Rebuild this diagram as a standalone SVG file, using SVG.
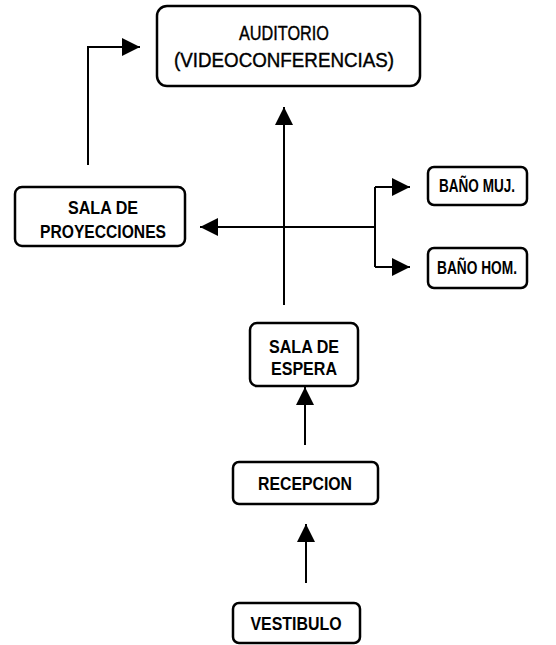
<svg xmlns="http://www.w3.org/2000/svg" width="556" height="645" viewBox="0 0 556 645">
<style>
.box{fill:#fff;stroke:#000;stroke-width:2.5}
.t{font-family:"Liberation Sans",Arial,sans-serif;font-weight:bold;font-size:18px;text-anchor:middle;fill:#000}
.tl{font-family:"Liberation Sans",Arial,sans-serif;font-size:20px;text-anchor:middle;fill:#000;stroke:#000;stroke-width:0.4}
.c{fill:none;stroke:#000;stroke-width:2}
</style>
<defs>
<marker id="ah" markerUnits="userSpaceOnUse" markerWidth="18" markerHeight="18" viewBox="0 0 18 18" refX="18" refY="9" orient="auto">
<path d="M0,0 L18,9 L0,18 Z" fill="#000"/>
</marker>
</defs>
<rect width="556" height="645" fill="#fff"/>
<g id="connectors">
<path class="c" d="M88,165 V47 H140" marker-end="url(#ah)"/>
<path class="c" d="M284,305 V107" marker-end="url(#ah)"/>
<path class="c" d="M375,227 H200" marker-end="url(#ah)"/>
<path class="c" d="M375,187 V267"/>
<path class="c" d="M375,187 H410" marker-end="url(#ah)"/>
<path class="c" d="M375,267 H410" marker-end="url(#ah)"/>
<path class="c" d="M305,445 V387" marker-end="url(#ah)"/>
<path class="c" d="M306,583 V524" marker-end="url(#ah)"/>
</g>
<g id="auditorio">
<rect class="box" x="157" y="6" width="263" height="80" rx="10"/>
<text class="tl" x="284" y="40" textLength="90" lengthAdjust="spacingAndGlyphs">AUDITORIO</text>
<text class="tl" x="284" y="67" textLength="220" lengthAdjust="spacingAndGlyphs">(VIDEOCONFERENCIAS)</text>
</g>
<g id="sala-proyecciones">
<rect class="box" x="15" y="187" width="170" height="59" rx="7"/>
<text class="t" x="103" y="214" textLength="70" lengthAdjust="spacingAndGlyphs">SALA DE</text>
<text class="t" x="103" y="238" textLength="126" lengthAdjust="spacingAndGlyphs">PROYECCIONES</text>
</g>
<g id="bano-muj">
<rect class="box" x="428" y="167" width="99" height="38" rx="6"/>
<text class="t" x="477" y="192" font-size="16" textLength="76" lengthAdjust="spacingAndGlyphs">BAÑO MUJ.</text>
</g>
<g id="bano-hom">
<rect class="box" x="428" y="248" width="99" height="40" rx="6"/>
<text class="t" x="477" y="274" font-size="16" textLength="80" lengthAdjust="spacingAndGlyphs">BAÑO HOM.</text>
</g>
<g id="sala-espera">
<rect class="box" x="250" y="323" width="108" height="63" rx="7"/>
<text class="t" x="304" y="353" textLength="70" lengthAdjust="spacingAndGlyphs">SALA DE</text>
<text class="t" x="304" y="375" textLength="66" lengthAdjust="spacingAndGlyphs">ESPERA</text>
</g>
<g id="recepcion">
<rect class="box" x="233" y="462" width="145" height="42" rx="6"/>
<text class="t" x="305" y="490" textLength="94" lengthAdjust="spacingAndGlyphs">RECEPCION</text>
</g>
<g id="vestibulo">
<rect class="box" x="233" y="603" width="127" height="40" rx="6"/>
<text class="t" x="296" y="630" textLength="91" lengthAdjust="spacingAndGlyphs">VESTIBULO</text>
</g>
</svg>
